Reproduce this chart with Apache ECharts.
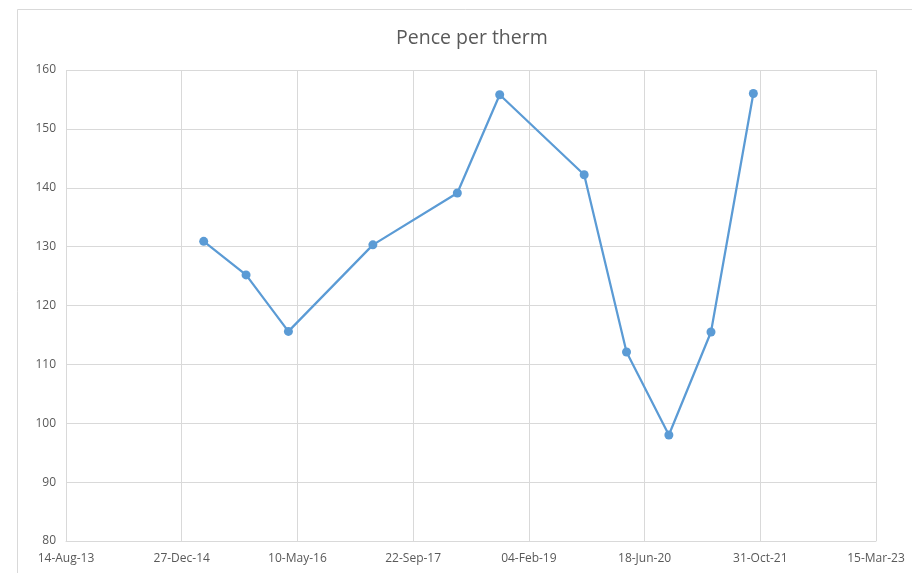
<!DOCTYPE html>
<html>
<head>
<meta charset="utf-8">
<title>Pence per therm</title>
<script src="https://cdn.jsdelivr.net/npm/echarts@6/dist/echarts.min.js"></script>
<style>
  html, body { margin: 0; padding: 0; background: #ffffff; }
  #chart { width: 912px; height: 573px; }
</style>
</head>
<body>
<div id="chart"></div>
<script>
// Observation dates (half-yearly) and gas price in pence per therm
const dates = [
  '2015-04-01', '2015-10-01', '2016-04-01', '2017-04-01', '2018-04-01',
  '2018-10-01', '2019-10-01', '2020-04-01', '2020-10-01', '2021-04-01',
  '2021-10-01'
];
const pencePerTherm = [130.9, 125.2, 115.6, 130.3, 139.1, 155.8, 142.2, 112.1, 98.0, 115.5, 156.0];

// Date axis in spreadsheet day serials, ticks every 500 days
const xMin = 41500;
const xMax = 45000;
const xStep = 500;
const yMin = 80;
const yMax = 160;
const yStep = 10;

const EPOCH = Date.UTC(1899, 11, 30);
const DAY = 86400000;
const MONTHS = ['Jan','Feb','Mar','Apr','May','Jun','Jul','Aug','Sep','Oct','Nov','Dec'];

function toSerial(iso) {
  const p = iso.split('-').map(Number);
  return Math.round((Date.UTC(p[0], p[1] - 1, p[2]) - EPOCH) / DAY);
}
function serialLabel(s) {
  const d = new Date(EPOCH + s * DAY);
  const dd = String(d.getUTCDate()).padStart(2, '0');
  const yy = String(d.getUTCFullYear() % 100).padStart(2, '0');
  return dd + '-' + MONTHS[d.getUTCMonth()] + '-' + yy;
}

const seriesData = dates.map((d, i) => [toSerial(d), pencePerTherm[i]]);

const textColor = '#595959';
const gridColor = '#d9d9d9';
const font = 'Open Sans, Noto Sans, sans-serif';

const chart = echarts.init(document.getElementById('chart'), null, { renderer: 'canvas' });
chart.setOption({
  animation: false,
  backgroundColor: '#ffffff',
  graphic: [{
    type: 'rect',
    silent: true,
    z: -10,
    shape: { x: 17.5, y: 9.5, width: 1000, height: 1000 },
    style: { fill: 'none', stroke: gridColor, lineWidth: 1 }
  }],
  title: {
    text: 'Pence per therm',
    left: 391,
    top: 23,
    textStyle: { color: textColor, fontFamily: font, fontSize: 19.5, fontWeight: 'normal' }
  },
  grid: { left: 66, right: 36, top: 70, bottom: 32, containLabel: false },
  xAxis: {
    type: 'value',
    min: xMin,
    max: xMax,
    interval: xStep,
    axisLine: { show: true, lineStyle: { color: gridColor, width: 1 } },
    axisTick: { show: false },
    splitLine: { show: true, lineStyle: { color: gridColor, width: 1 } },
    axisLabel: {
      color: textColor,
      fontFamily: font,
      fontSize: 12,
      margin: 12,
      showMinLabel: true,
      showMaxLabel: true,
      formatter: v => serialLabel(v)
    }
  },
  yAxis: {
    type: 'value',
    min: yMin,
    max: yMax,
    interval: yStep,
    axisLine: { show: false },
    axisTick: { show: false },
    splitLine: { show: true, lineStyle: { color: gridColor, width: 1 } },
    axisLabel: { color: textColor, fontFamily: font, fontSize: 12, margin: 10 }
  },
  series: [{
    type: 'line',
    data: seriesData,
    symbol: 'circle',
    symbolSize: 9,
    itemStyle: { color: '#5b9bd5' },
    lineStyle: { color: '#5b9bd5', width: 2.25 },
    z: 5
  }]
});
</script>
</body>
</html>
